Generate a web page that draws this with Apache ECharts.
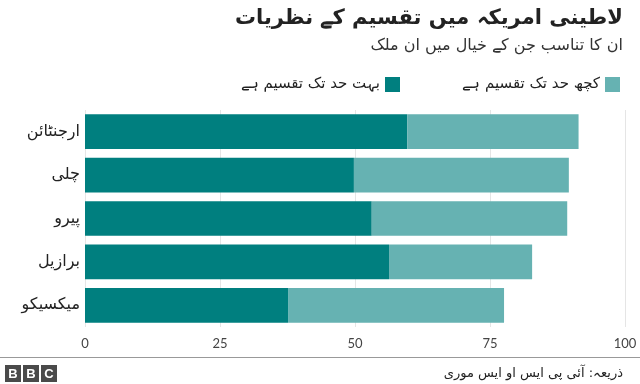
<!DOCTYPE html>
<html><head><meta charset="utf-8">
<script src="https://cdn.jsdelivr.net/npm/echarts@6/dist/echarts.min.js"></script>
<style>html,body{margin:0;padding:0;background:#fff}#c{width:640px;height:384px}</style>
</head><body><div id="c"></div>
<script>
const categories = ['ارجنٹائن', 'چلی', 'پیرو', 'برازیل', 'میکسیکو'];
const veryDivided = [59.7, 49.8, 53.1, 56.3, 37.6];
const somewhatDivided = [31.7, 39.8, 36.2, 26.5, 40.0];
const seriesNames = ['بہت حد تک تقسیم ہے', 'کچھ حد تک تقسیم ہے'];
const xTicks = [0, 25, 50, 75, 100];
const titleText = 'لاطینی امریکہ میں تقسیم کے نظریات';
const subtitleText = 'ان کا تناسب جن کے خیال میں ان ملک';
const sourceText = 'ذریعہ: آئی پی ایس او ایس موری';

const FONT = 'DejaVu Sans, Noto Sans, sans-serif';
const chart = echarts.init(document.getElementById('c'), null, {renderer: 'canvas'});
const logo = [];
['B','B','C'].forEach((ch, i) => {
  logo.push({type: 'rect', shape: {x: 5 + i * 18, y: 365, width: 16, height: 17}, style: {fill: '#4a4a4a'}});
  logo.push({type: 'text', style: {x: 13 + i * 18, y: 374, text: ch, fill: '#fff', font: 'bold 13px Arial, Liberation Sans', textAlign: 'center', textVerticalAlign: 'middle'}});
});
chart.setOption({
  animation: false,
  textStyle: {fontFamily: FONT},
  title: [
    {text: titleText, right: 12, top: 3, textStyle: {fontSize: 21, fontWeight: 'bold', color: '#222', fontFamily: FONT}},
    {text: subtitleText, right: 12, top: 33, textStyle: {fontSize: 16, fontWeight: 'normal', color: '#333', fontFamily: FONT}},
    {text: sourceText, right: 12, top: 362, textStyle: {fontSize: 13, fontWeight: 'normal', color: '#222', fontFamily: FONT}}
  ],
  legend: [
    {data: [seriesNames[1]], right: 15, top: 72, align: 'right', itemWidth: 15, itemHeight: 15, icon: 'rect',
     textStyle: {fontSize: 15, color: '#222', fontFamily: FONT}},
    {data: [seriesNames[0]], right: 235, top: 72, align: 'right', itemWidth: 15, itemHeight: 15, icon: 'rect',
     textStyle: {fontSize: 15, color: '#222', fontFamily: FONT}}
  ],
  grid: {left: 85, right: 15, top: 110, bottom: 57, containLabel: false},
  xAxis: {
    type: 'value', min: xTicks[0], max: xTicks[xTicks.length - 1], interval: 25,
    axisLine: {show: false}, axisTick: {show: false},
    splitLine: {show: true, lineStyle: {color: '#e5e5e5', width: 1}},
    axisLabel: {color: '#444', fontSize: 13, margin: 10, fontFamily: 'Lato, Open Sans, sans-serif'}
  },
  yAxis: {
    type: 'category', data: categories, inverse: true,
    axisLine: {show: false}, axisTick: {show: false},
    axisLabel: {color: '#222', fontSize: 16, margin: 5, fontFamily: FONT}
  },
  series: [
    {name: seriesNames[0], type: 'bar', stack: 's', data: veryDivided, barCategoryGap: '20%', itemStyle: {color: '#007f7f'}},
    {name: seriesNames[1], type: 'bar', stack: 's', data: somewhatDivided, barCategoryGap: '20%', itemStyle: {color: '#66b2b2'}}
  ],
  graphic: [
    {type: 'line', shape: {x1: 0, y1: 357.5, x2: 640, y2: 357.5}, style: {stroke: '#999', lineWidth: 1}}
  ].concat(logo)
});
</script></body></html>
